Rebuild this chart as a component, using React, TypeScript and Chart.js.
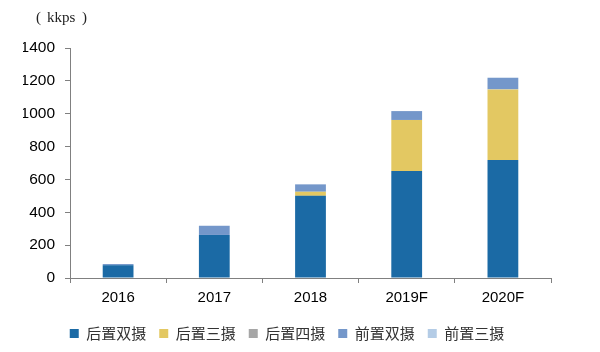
import React, { useEffect, useRef } from "react";
import { Chart, registerables } from "chart.js";

Chart.register(...registerables);

const categories = ["2016", "2017", "2018", "2019F", "2020F"];
const seriesNames = ["后置双摄", "后置三摄", "后置四摄", "前置双摄", "前置三摄"];
const rearDual = [78, 262, 500, 651, 718];
const rearTriple = [0, 0, 25, 311, 430];
const rearQuad = [0, 0, 0, 0, 0];
const frontDual = [7, 56, 45, 54, 71];
const frontTriple = [0, 0, 0, 0, 0];
const yTicks = [0, 200, 400, 600, 800, 1000, 1200, 1400];
const unitParts = ["(", "kkps", ")"];

const colors = ["#1B6AA5", "#E3C862", "#A6A6A6", "#7497CA", "#B4CCE6"];

const unitPlugin = {
  id: "unitLabel",
  afterDraw(chart: any) {
    const ctx = chart.ctx;
    ctx.save();
    ctx.font = "15px 'Liberation Serif'";
    ctx.fillStyle = "#222";
    ctx.textBaseline = "middle";
    ctx.textAlign = "left";
    ctx.fillText(unitParts[0], 36, 18);
    ctx.fillText(unitParts[1], 47, 18);
    ctx.fillText(unitParts[2], 82, 18);
    ctx.restore();
  },
};

export default function App() {
  const ref = useRef<HTMLCanvasElement | null>(null);
  useEffect(() => {
    if (!ref.current) return;
    const values = [rearDual, rearTriple, rearQuad, frontDual, frontTriple];
    const chart = new Chart(ref.current, {
      type: "bar",
      data: {
        labels: categories,
        datasets: values.map((d, i) => ({
          label: seriesNames[i],
          data: d,
          backgroundColor: colors[i],
          borderWidth: 0,
          categoryPercentage: 1,
          barPercentage: 0.32,
        })),
      },
      options: {
        animation: false,
        responsive: false,
        maintainAspectRatio: false,
        layout: { padding: { top: 48, left: 23, right: 49, bottom: 1 } },
        plugins: {
          legend: {
            position: "bottom",
            labels: {
              boxWidth: 9,
              boxHeight: 9,
              padding: 13,
              color: "#333",
              font: { size: 15, family: "'Noto Sans CJK SC'" },
            },
          },
          tooltip: { enabled: false },
        },
        scales: {
          x: {
            stacked: true,
            grid: {
              display: true,
              drawOnChartArea: false,
              drawTicks: true,
              tickLength: 5,
              offset: true,
              color: "#808080",
            },
            border: { color: "#808080", width: 1 },
            ticks: {
              color: "#000",
              padding: 6,
              font: { size: 15, family: "'Liberation Sans'" },
            },
          },
          y: {
            stacked: true,
            min: 0,
            max: 1400,
            afterBuildTicks(scale: any) {
              scale.ticks = yTicks.map((v) => ({ value: v }));
            },
            afterFit(scale: any) {
              scale.width = 47;
            },
            grid: {
              display: true,
              drawOnChartArea: false,
              drawTicks: true,
              tickLength: 5,
              color: "#808080",
            },
            border: { color: "#808080", width: 1 },
            ticks: {
              color: "#000",
              padding: 10,
              font: { size: 15.5, family: "'Liberation Sans'" },
              callback: (v: any) => String(v),
            },
          },
        },
      },
      plugins: [unitPlugin],
    });
    return () => chart.destroy();
  }, []);
  return (
    <div style={{ position: "fixed", left: 0, top: 0, width: 600, height: 352, background: "#fff" }}>
      <canvas ref={ref} width={600} height={352} style={{ width: 600, height: 352 }} />
    </div>
  );
}
